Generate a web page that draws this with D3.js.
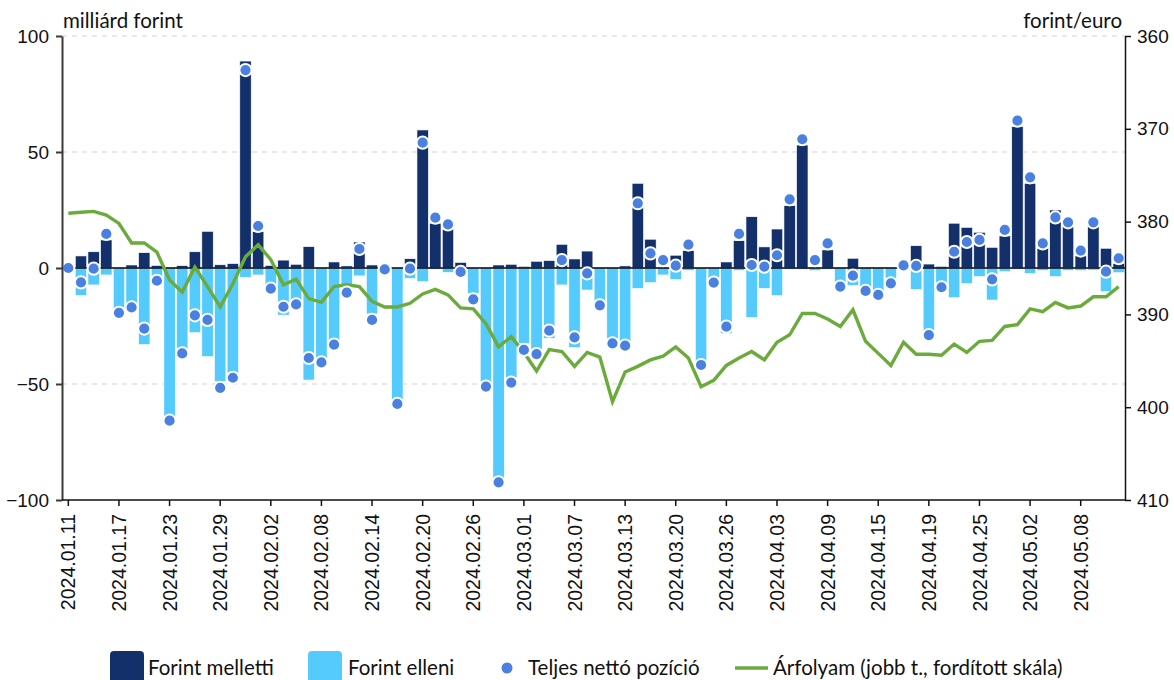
<!DOCTYPE html>
<html>
<head>
<meta charset="utf-8">
<script src="https://cdn.jsdelivr.net/npm/d3@7/dist/d3.min.js"></script>
<style>
  html, body { margin: 0; padding: 0; background: #fff; }
  svg { display: block; }
</style>
</head>
<body>
<svg id="chart" width="1174" height="680"></svg>
<script>
// Trading days (business days in Hungary)
const dates = ["2024.01.11","2024.01.12","2024.01.15","2024.01.16","2024.01.17","2024.01.18","2024.01.19","2024.01.22","2024.01.23","2024.01.24","2024.01.25","2024.01.26","2024.01.29","2024.01.30","2024.01.31","2024.02.01","2024.02.02","2024.02.05","2024.02.06","2024.02.07","2024.02.08","2024.02.09","2024.02.12","2024.02.13","2024.02.14","2024.02.15","2024.02.16","2024.02.19","2024.02.20","2024.02.21","2024.02.22","2024.02.23","2024.02.26","2024.02.27","2024.02.28","2024.02.29","2024.03.01","2024.03.04","2024.03.05","2024.03.06","2024.03.07","2024.03.08","2024.03.11","2024.03.12","2024.03.13","2024.03.14","2024.03.18","2024.03.19","2024.03.20","2024.03.21","2024.03.22","2024.03.25","2024.03.26","2024.03.27","2024.03.28","2024.04.02","2024.04.03","2024.04.04","2024.04.05","2024.04.08","2024.04.09","2024.04.10","2024.04.11","2024.04.12","2024.04.15","2024.04.16","2024.04.17","2024.04.18","2024.04.19","2024.04.22","2024.04.23","2024.04.24","2024.04.25","2024.04.26","2024.04.29","2024.04.30","2024.05.02","2024.05.03","2024.05.06","2024.05.07","2024.05.08","2024.05.09","2024.05.10","2024.05.13"];

// Positions in favour of the forint (billion HUF)
const forintMelletti = [0,5.2,7.0,12.1,0.3,1.3,6.6,1.1,0.3,1.0,7.0,15.8,1.4,1.9,
  89.2,15.7,1.1,3.4,1.6,9.2,0.3,2.6,0.9,11.2,1.3,0,0,4.0,
  59.5,19.3,16.7,2.4,0,0.3,1.3,1.6,0.7,2.9,3.2,10.2,3.9,7.3,
  0,0.3,0.9,36.5,12.4,0.3,5.5,7.5,0,0,2.6,11.8,22.1,9.1,
  16.8,26.9,53.0,0.3,7.8,0,4.2,0,0,0,0,9.6,1.7,0.7,
  19.3,17.5,15.4,8.9,13.8,60.9,36.5,8.5,25.0,17.8,5.2,17.8,8.5,2.0];

// Positions against the forint (billion HUF)
const forintElleni = [0,-11.8,-7.3,-3.0,-18.0,-16.5,-33.0,-3.7,-67.0,-35.3,-27.9,-38.2,-49.0,-46.8,
  -4.0,-3.0,-8.0,-20.3,-15.2,-48.3,-41.0,-31.8,-8.0,-3.4,-19.8,0,-56.9,-4.5,
  -5.9,-0.6,-1.9,0,-10.9,-49.7,-90.7,-48.3,-32.5,-36.1,-30.3,-7.3,-34.2,-9.5,
  -16.7,-30.3,-31.8,-8.8,-6.3,-3.0,-4.9,-1.1,-40.4,-4.5,-28.2,-1.1,-21.3,-8.8,
  -11.9,-0.6,-0.6,-1.1,-0.6,-8.0,-7.5,-8.0,-10.2,-4.5,0,-9.2,-27.4,-9.5,
  -12.8,-6.6,-3.7,-13.8,-1.6,-0.6,-2.3,-1.1,-3.7,-1.1,-1.1,-0.9,-10.2,-2.0];

// Total net position (billion HUF)
const nettoPozicio = [0,-6.2,-0.3,14.7,-19.3,-17.0,-26.1,-5.5,-65.8,-36.8,-20.4,-22.4,-51.7,-47.3,
  85.3,18.1,-8.9,-16.7,-15.7,-38.8,-40.7,-33.0,-10.6,8.2,-22.4,-0.6,-58.6,-0.3,
  54.0,21.7,18.8,-1.7,-13.5,-51.1,-92.4,-49.4,-35.3,-37.1,-27.0,3.4,-29.9,-2.3,
  -16.1,-32.5,-33.5,27.9,6.3,3.4,1.0,10.1,-41.8,-6.3,-25.3,14.7,1.3,0.6,
  5.5,29.6,55.5,3.4,10.6,-8.0,-3.3,-9.9,-11.6,-6.6,1.1,0.9,-28.9,-8.3,
  7.0,11.2,12.1,-4.9,16.4,63.5,39.1,10.6,21.8,19.7,7.5,19.7,-1.6,4.2];

// EUR/HUF exchange rate (right axis, inverted)
const arfolyam = [379.1,379.0,378.9,379.3,380.2,382.3,382.3,383.3,386.3,387.6,384.9,387.0,389.2,386.7,
  383.8,382.5,384.1,386.8,386.2,388.3,388.7,387.0,386.8,387.0,388.6,389.2,389.2,388.8,
  387.8,387.3,387.9,389.3,389.4,391.0,393.5,392.4,394.1,396.1,393.8,394.0,395.6,394.1,
  394.6,399.4,396.2,395.6,394.9,394.5,393.5,394.7,397.8,397.1,395.5,394.7,394.0,394.9,
  393.0,392.2,389.9,389.9,390.5,391.3,389.5,392.9,394.2,395.5,393.0,394.3,394.3,394.4,
  393.2,394.1,392.9,392.8,391.3,391.1,389.4,389.7,388.7,389.3,389.1,388.1,388.1,387.0];

const xTickLabels = ["2024.01.11","2024.01.17","2024.01.23","2024.01.29","2024.02.02","2024.02.08","2024.02.14","2024.02.20","2024.02.26","2024.03.01","2024.03.07","2024.03.13","2024.03.20","2024.03.26","2024.04.03","2024.04.09","2024.04.15","2024.04.19","2024.04.25","2024.05.02","2024.05.08"];
const leftTicks = [-100, -50, 0, 50, 100];
const rightTicks = [360, 370, 380, 390, 400, 410];
const gridTicks = [100, 50, -50];

const C = {
  dark: "#13306b",
  light: "#55cbfd",
  dot: "#4a80e0",
  green: "#6aab3c",
  grid: "#d2d2d2"
};
const AXIS_FONT = "'Liberation Sans', Arial, sans-serif";
const TEXT_FONT = "Lato, 'Open Sans', sans-serif";

const plot = { left: 62, right: 1125, top: 36, bottom: 500 };
const svg = d3.select("#chart");

const x = d3.scaleBand().domain(dates).range([plot.left, plot.right])
  .paddingInner(0.1).paddingOuter(0.05);
const cx = d => x(d) + x.bandwidth() / 2;
const y = d3.scaleLinear().domain([-100, 100]).range([plot.bottom, plot.top]);
const yR = d3.scaleLinear().domain([360, 410]).range([plot.top, plot.bottom]);

// horizontal dashed gridlines
svg.append("g").selectAll("line").data(gridTicks).join("line")
  .attr("x1", plot.left).attr("x2", plot.right)
  .attr("y1", d => y(d)).attr("y2", d => y(d))
  .attr("stroke", C.grid).attr("stroke-width", 1.2)
  .attr("stroke-dasharray", "5,5");

const rows = dates.map((d, i) => ({
  date: d, pro: forintMelletti[i], con: forintElleni[i],
  net: nettoPozicio[i], rate: arfolyam[i]
}));

// bars: positive (in favour) and negative (against)
const bars = svg.append("g");
bars.selectAll("rect.pro").data(rows).join("rect").attr("class", "pro")
  .attr("x", d => x(d.date)).attr("width", x.bandwidth())
  .attr("y", d => y(d.pro)).attr("height", d => y(0) - y(d.pro))
  .attr("fill", C.dark).attr("stroke", "#fff").attr("stroke-width", 0.6);
bars.selectAll("rect.con").data(rows).join("rect").attr("class", "con")
  .attr("x", d => x(d.date)).attr("width", x.bandwidth())
  .attr("y", y(0)).attr("height", d => y(d.con) - y(0))
  .attr("fill", C.light).attr("stroke", "#fff").attr("stroke-width", 0.6);

// zero line
svg.append("line")
  .attr("x1", plot.left).attr("x2", plot.right)
  .attr("y1", y(0)).attr("y2", y(0))
  .attr("stroke", "#000").attr("stroke-width", 1.5);

// exchange-rate line
svg.append("path").datum(rows)
  .attr("fill", "none").attr("stroke", C.green).attr("stroke-width", 3.4)
  .attr("d", d3.line().x(d => cx(d.date)).y(d => yR(d.rate)));

// net position dots
svg.append("g").selectAll("circle").data(rows).join("circle")
  .attr("cx", d => cx(d.date)).attr("cy", d => y(d.net)).attr("r", 6.1)
  .attr("fill", C.dot).attr("stroke", "#fff").attr("stroke-width", 2);

// axes
const styleAxis = (g, color, width, fs) => {
  g.select(".domain").attr("stroke", color).attr("stroke-width", width);
  g.selectAll(".tick line").attr("stroke", color).attr("stroke-width", width);
  g.selectAll(".tick text").attr("fill", "#111")
    .style("font-family", AXIS_FONT).style("font-size", fs + "px");
};

const gL = svg.append("g").attr("transform", `translate(${plot.left},0)`)
  .call(d3.axisLeft(y).tickValues(leftTicks).tickSize(6).tickSizeOuter(0).tickPadding(7));
styleAxis(gL, "#3a3a3a", 2, 19);

const gR = svg.append("g").attr("transform", `translate(${plot.right},0)`)
  .call(d3.axisRight(yR).tickValues(rightTicks).tickSize(6).tickSizeOuter(0).tickPadding(6));
styleAxis(gR, "#111", 1.5, 19);

const gB = svg.append("g").attr("transform", `translate(0,${plot.bottom})`)
  .call(d3.axisBottom(x).tickValues(xTickLabels).tickSize(6).tickSizeOuter(0));
styleAxis(gB, "#111", 1.5, 19.5);
gB.select(".domain").attr("d", `M${plot.left},0H${plot.right}`);
gB.selectAll(".tick text")
  .attr("transform", "rotate(-90)")
  .attr("x", -14).attr("y", 0).attr("dy", "0.36em")
  .style("text-anchor", "end");

// axis titles
svg.append("text").attr("x", 63).attr("y", 28)
  .style("font-family", TEXT_FONT).style("font-size", "20.5px").attr("fill", "#111")
  .text("milliárd forint");
svg.append("text").attr("x", 1122).attr("y", 28).attr("text-anchor", "end")
  .style("font-family", TEXT_FONT).style("font-size", "20.5px").attr("fill", "#111")
  .text("forint/euro");

// legend
const leg = svg.append("g");
const legY = 668;
const legText = (xp, t) => leg.append("text").attr("x", xp).attr("y", legY + 7)
  .style("font-family", TEXT_FONT).style("font-size", "20.5px").attr("fill", "#111").text(t);
leg.append("rect").attr("x", 110).attr("y", 651).attr("width", 34).attr("height", 36)
  .attr("rx", 4).attr("fill", C.dark);
legText(148, "Forint melletti");
leg.append("rect").attr("x", 308).attr("y", 651).attr("width", 34).attr("height", 36)
  .attr("rx", 4).attr("fill", C.light);
legText(348, "Forint elleni");
leg.append("circle").attr("cx", 507).attr("cy", legY).attr("r", 5.5).attr("fill", C.dot);
legText(528, "Teljes nettó pozíció");
leg.append("line").attr("x1", 735).attr("x2", 768).attr("y1", legY).attr("y2", legY)
  .attr("stroke", C.green).attr("stroke-width", 3.5);
legText(773, "Árfolyam (jobb t., fordított skála)");
</script>
</body>
</html>
